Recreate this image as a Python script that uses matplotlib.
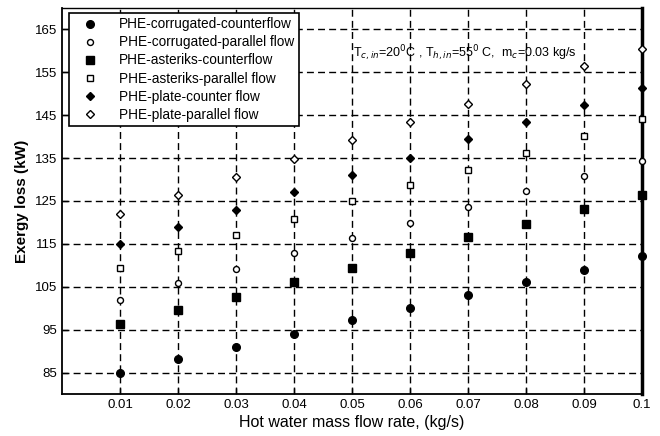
import numpy as np
import matplotlib.pyplot as plt

plt.rcParams['font.family'] = ['Liberation Sans', 'DejaVu Sans']

flow = [0.01, 0.02, 0.03, 0.04, 0.05, 0.06, 0.07, 0.08, 0.09, 0.1]
corr_counter = [85, 88.2, 91, 94.1, 97.2, 100, 103, 106.1, 109, 112.1]
corr_parallel = [102, 105.8, 109.2, 112.9, 116.4, 119.9, 123.7, 127.3, 130.9, 134.4]
ast_counter = [96.3, 99.6, 102.7, 106.1, 109.4, 113, 116.6, 119.7, 123.2, 126.5]
ast_parallel = [109.4, 113.3, 117.1, 120.9, 125, 128.8, 132.3, 136.2, 140.2, 144]
plate_counter = [115, 118.9, 122.9, 127, 131.1, 135.1, 139.4, 143.3, 147.3, 151.4]
plate_parallel = [122, 126.3, 130.5, 134.8, 139.2, 143.5, 147.7, 152.2, 156.4, 160.4]

labels = ['PHE-corrugated-counterflow', 'PHE-corrugated-parallel flow',
          'PHE-asteriks-counterflow', 'PHE-asteriks-parallel flow',
          'PHE-plate-counter flow', 'PHE-plate-parallel flow']
series = [corr_counter, corr_parallel, ast_counter, ast_parallel, plate_counter, plate_parallel]
styles = [('o', 'k', 5.5), ('o', 'w', 4.3), ('s', 'k', 5.5), ('s', 'w', 4.5), ('D', 'k', 4.3), ('D', 'w', 4)]

fig = plt.figure(figsize=(6.6, 4.36), dpi=100)
ax = fig.add_axes([0.094, 0.096, 0.879, 0.886])

for y, lab, (m, fc, ms) in zip(series, labels, styles):
    ax.plot(flow, y, ls='none', marker=m, mfc=fc, mec='k', mew=1, ms=ms, label=lab, clip_on=False, zorder=3)

ax.set_xlim(0, 0.1)
ax.set_ylim(80, 170)
ax.set_xticks(flow)
ax.set_xticklabels(['0.01', '0.02', '0.03', '0.04', '0.05', '0.06', '0.07', '0.08', '0.09', '0.1'])
ax.set_yticks([85, 95, 105, 115, 125, 135, 145, 155, 165])
ax.tick_params(direction='in', length=4, labelsize=9.5, width=1)
ax.grid(True, color='k', ls=(0, (5, 3)), lw=1)
for s in ['left', 'bottom']:
    ax.spines[s].set_linewidth(1.3)
ax.spines['top'].set_linewidth(1)
ax.spines['right'].set_linewidth(2.5)

ax.set_xlabel('Hot water mass flow rate, (kg/s)', fontsize=11.5, labelpad=3)
ax.set_ylabel('Exergy loss (kW)', fontsize=11, fontweight='bold')

ax.text(0.0502, 159.5, r'T$_{c,in}$=20$^0$C , T$_{h,in}$=55$^0$ C,  m$_c$=0.03 kg/s', fontsize=9,
        va='center', ha='left')

leg = ax.legend(loc='upper left', bbox_to_anchor=(0.007, 0.995), fontsize=9.8, frameon=True, fancybox=False,
                edgecolor='k', framealpha=1, borderpad=0.35, labelspacing=0.3, handletextpad=0.9,
                handlelength=2.4, borderaxespad=0.2)
leg.get_frame().set_linewidth(1.2)

fig.savefig('out.png', dpi=100)
